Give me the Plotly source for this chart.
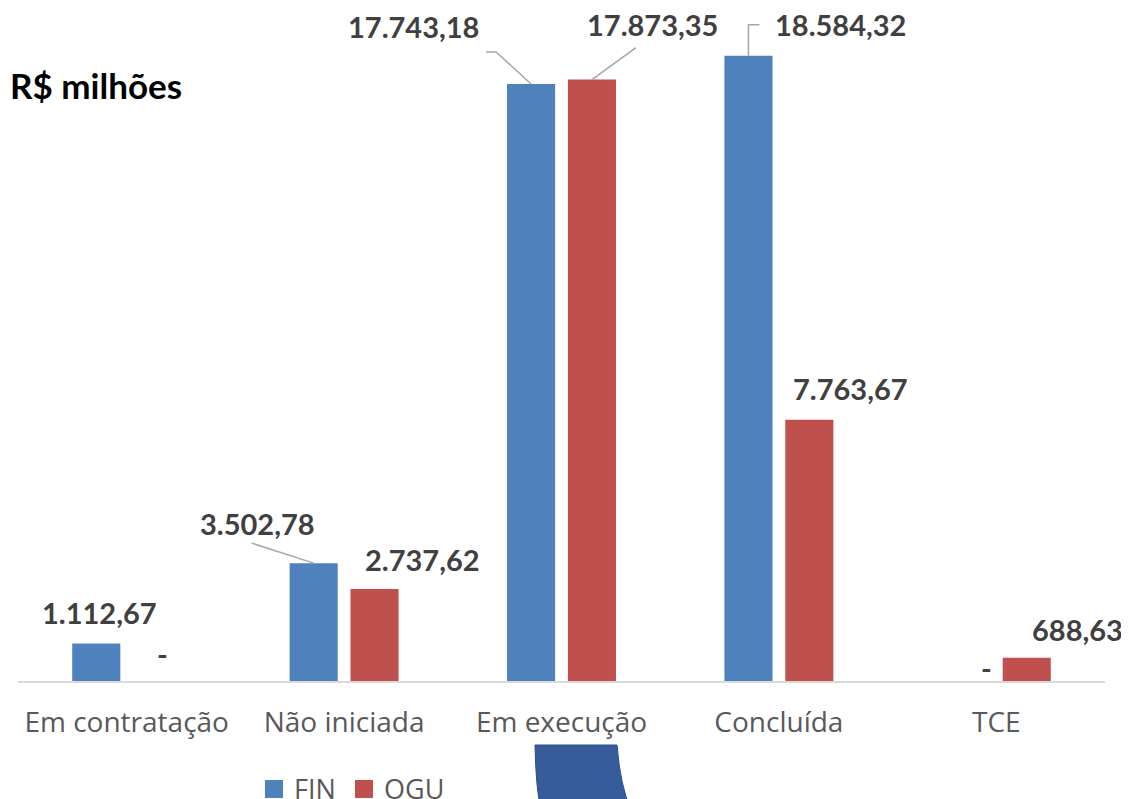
import plotly.graph_objects as go

categories = ["Em contratação", "Não iniciada", "Em execução", "Concluída", "TCE"]
fin_values = [1112.67, 3502.78, 17743.18, 18584.32, 0]
ogu_values = [0, 2737.62, 17873.35, 7763.67, 688.63]
fin_labels = ["1.112,67", "3.502,78", "17.743,18", "18.584,32", "-"]
ogu_labels = ["-", "2.737,62", "17.873,35", "7.763,67", "688,63"]
series_names = ["FIN", "OGU"]

FIN_COLOR = "#4F81BD"
OGU_COLOR = "#C0504D"
LABEL_COLOR = "#404040"
TICK_COLOR = "#595959"

xs = list(range(len(categories)))
OFF = 0.14  # half slot offset of each bar in a group

fig = go.Figure()
fig.add_trace(go.Bar(name=series_names[0], x=xs, y=fin_values, marker=dict(color=FIN_COLOR, line=dict(width=0)),
                     showlegend=False, hoverinfo="skip"))
fig.add_trace(go.Bar(name=series_names[1], x=xs, y=ogu_values, marker=dict(color=OGU_COLOR, line=dict(width=0)),
                     showlegend=False, hoverinfo="skip"))

# label offsets (pixels) relative to bar tops
fin_shift = [(3, 31), (-56, 40), (-118, 57), (92, 31), (21, 14)]
ogu_shift = [(5, 28), (48, 29), (61, 55), (41, 31), (51, 28)]

LBL_FONT = dict(family="Lato", size=29, color=LABEL_COLOR, weight="bold")
ann = []
for i in xs:
    ann.append(dict(x=i - OFF, y=fin_values[i], xref="x", yref="y", text=fin_labels[i], showarrow=False,
                    xshift=fin_shift[i][0], yshift=fin_shift[i][1], xanchor="center", yanchor="middle",
                    font=LBL_FONT))
    ann.append(dict(x=i + OFF, y=ogu_values[i], xref="x", yref="y", text=ogu_labels[i], showarrow=False,
                    xshift=ogu_shift[i][0], yshift=ogu_shift[i][1], xanchor="center", yanchor="middle",
                    font=LBL_FONT))

ann.append(dict(x=-0.009, y=0.885, xref="paper", yref="paper", text="R$ milhões", showarrow=False,
                xanchor="left", yanchor="middle",
                font=dict(family="Lato", size=35, color="#000000", weight="bold")))

# manual legend (reference legend is cut by the bottom edge)
leg_x = [0.2272, 0.3100]
for name, col, lx in zip(series_names, [FIN_COLOR, OGU_COLOR], leg_x):
    ann.append(dict(x=lx + 0.0249, y=-0.160, xref="paper", yref="paper", text=name, showarrow=False,
                    xanchor="left", yanchor="middle",
                    font=dict(family="Open Sans", size=27, color=TICK_COLOR)))

fig.update_layout(annotations=ann)

shapes = []
for col, lx in zip([FIN_COLOR, OGU_COLOR], leg_x):
    shapes.append(dict(type="rect", xref="paper", yref="paper", x0=lx, x1=lx + 0.0166,
                       y0=-0.1738, y1=-0.1471, fillcolor=col, line=dict(width=0)))

# leader lines (pixel paths anchored at bar tops)
leaders = [
    (1 - OFF, fin_values[1], "M-62,20 L0,0"),
    (2 - OFF, fin_values[2], "M-45,32 L-35,32 L0,0"),
    (3 - OFF, fin_values[3], "M11,31 L0,31 L0,0"),
    (2 + OFF, ogu_values[2], "M44,32 L0,0"),
]
for xa, ya, p in leaders:
    shapes.append(dict(type="path", xref="x", yref="y", xsizemode="pixel", ysizemode="pixel",
                       xanchor=xa, yanchor=ya, path=p, line=dict(color="#A6A6A6", width=1.5)))

# decorative slide shape partially visible at bottom
shapes.append(dict(type="path", xref="paper", yref="paper",
                   path="M0.4756,-0.0951 L0.5511,-0.0951 Q0.5539,-0.1545 0.5639,-0.1917 L0.4811,-0.1917 Q0.4765,-0.1620 0.4756,-0.0951 Z",
                   fillcolor="#365C9C", line=dict(color="#2E5088", width=1), layer="above"))

# the page body has an 8px margin, so the figure is sized/offset to compensate
fig.update_layout(
    shapes=shapes,
    width=1121, height=791,
    margin=dict(l=10, r=24, t=0, b=118, autoexpand=False),
    paper_bgcolor="white", plot_bgcolor="white",
    barmode="group", bargap=0.44, bargroupgap=0.21,
    xaxis=dict(tickvals=xs, ticktext=categories, range=[-0.5, 4.5], showgrid=False, zeroline=False,
               showline=True, linecolor="#D9D9D9", linewidth=2,
               ticks="outside", ticklen=15, tickcolor="rgba(0,0,0,0)",
               tickfont=dict(family="Open Sans", size=28, color=TICK_COLOR)),
    yaxis=dict(range=[0, 20000], visible=False, showgrid=False, zeroline=False),
    showlegend=False,
)

fig.write_html("out.html")
